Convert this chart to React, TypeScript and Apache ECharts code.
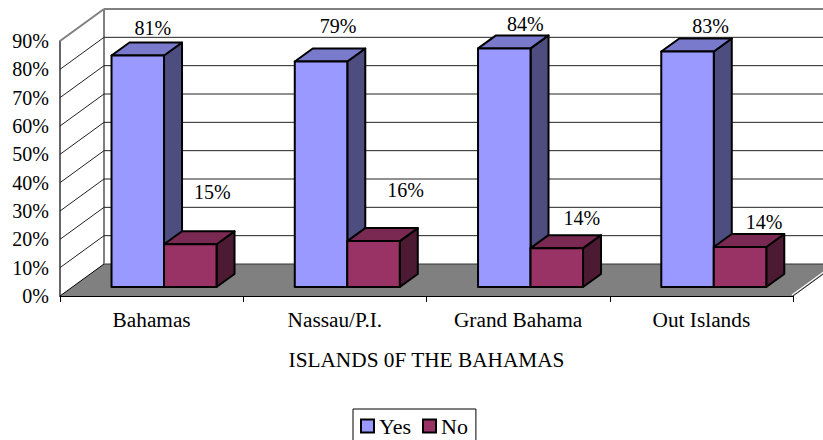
import React, { useEffect, useRef } from "react";
import * as echarts from "echarts";

const categories = ["Bahamas", "Nassau/P.I.", "Grand Bahama", "Out Islands"];
const yesValues = [81.7, 79.6, 84.2, 83.1];
const noValues = [15.1, 16.2, 13.7, 14.1];
const yesLabels = ["81%", "79%", "84%", "83%"];
const noLabels = ["15%", "16%", "14%", "14%"];
const tickValues = [0, 10, 20, 30, 40, 50, 60, 70, 80, 90];
const axisTitle = "ISLANDS 0F THE BAHAMAS";

// layout of the fake 3D box
const WALL_DX = 44;
const WALL_DY = -32;
const BAR_SHIFT_X = 12.4;
const BAR_SHIFT_Y = -9;
const BAR_DX = 18;
const BAR_DY = -13;
const BAR_W = 52.5;
const yesNudge = [[15, -28], [17, -35], [21, -24], [23, -26]];
const noNudge = [[22, -52], [32, -51], [25, -30], [24, -25]];

const FONT = "'Liberation Serif', 'Times New Roman', serif";
const FONT_SIZE = 20;
const CAT_FONT_SIZE = 21.3;
const LEGEND_FONT_SIZE = 22;

function wallItem(params: any, api: any) {
  const v = api.value(0);
  const cs = params.coordSys;
  const y = api.coord([0, v])[1];
  const left = cs.x;
  const right = cs.x + cs.width;
  const children: any[] = [];
  if (v === 0) {
    children.push({
      type: "polygon",
      shape: {
        points: [
          [left, y],
          [right, y],
          [right + WALL_DX, y + WALL_DY],
          [left + WALL_DX, y + WALL_DY],
        ],
      },
      style: { fill: "#808080" },
    });
    const topY = api.coord([0, 90])[1];
    children.push({
      type: "line",
      shape: { x1: left + WALL_DX, y1: y + WALL_DY, x2: right + WALL_DX, y2: y + WALL_DY },
      style: { stroke: "#333", lineWidth: 1 },
    });
    children.push({
      type: "line",
      shape: { x1: right - 1, y1: y - 1, x2: right + WALL_DX - 1, y2: y + WALL_DY - 1 },
      style: { stroke: "#fff", lineWidth: 1.2 },
    });
    children.push({
      type: "line",
      shape: { x1: right, y1: y, x2: right + WALL_DX, y2: y + WALL_DY },
      style: { stroke: "#222", lineWidth: 1 },
    });
    children.push({
      type: "line",
      shape: { x1: left + WALL_DX, y1: y + WALL_DY, x2: left + WALL_DX, y2: topY + WALL_DY },
      style: { stroke: "#808080", lineWidth: 2 },
    });
    children.push({
      type: "line",
      shape: { x1: left, y1: y, x2: left + WALL_DX, y2: y + WALL_DY },
      style: { stroke: "#000", lineWidth: 1 },
    });
  } else if (v === 90) {
    children.push({
      type: "line",
      shape: { x1: left, y1: y, x2: left + WALL_DX, y2: y + WALL_DY },
      style: { stroke: "#808080", lineWidth: 2 },
    });
    children.push({
      type: "line",
      shape: { x1: left + WALL_DX, y1: y + WALL_DY, x2: right + WALL_DX, y2: y + WALL_DY },
      style: { stroke: "#808080", lineWidth: 2 },
    });
  } else {
    children.push({
      type: "polyline",
      shape: {
        points: [
          [left, y],
          [left + WALL_DX, y + WALL_DY],
          [right + WALL_DX, y + WALL_DY],
        ],
      },
      style: { fill: "none", stroke: "#222", lineWidth: 1 },
    });
  }
  return { type: "group", children };
}

function barRenderer(
  offset: number,
  front: string,
  top: string,
  side: string,
  labels: string[],
  nudges: number[][]
) {
  return (_params: any, api: any) => {
    const idx = api.value(0);
    const val = api.value(1);
    const base = api.coord([idx, 0]);
    const tip = api.coord([idx, val]);
    const x0 = base[0] + BAR_SHIFT_X + offset * BAR_W;
    const x1 = x0 + BAR_W;
    const yb = base[1] + BAR_SHIFT_Y;
    const yt = tip[1] + BAR_SHIFT_Y;
    const stroke = { stroke: "#000", lineWidth: 2, lineJoin: "round" };
    const mid = (x0 + x1) / 2;
    return {
      type: "group",
      children: [
        {
          type: "polygon",
          shape: {
            points: [
              [x1, yt],
              [x1 + BAR_DX, yt + BAR_DY],
              [x1 + BAR_DX, yb + BAR_DY],
              [x1, yb],
            ],
          },
          style: { fill: side, ...stroke },
        },
        {
          type: "polygon",
          shape: {
            points: [
              [x0, yt],
              [x0 + BAR_DX, yt + BAR_DY],
              [x1 + BAR_DX, yt + BAR_DY],
              [x1, yt],
            ],
          },
          style: { fill: top, ...stroke },
        },
        {
          type: "rect",
          shape: { x: x0, y: yt, width: BAR_W, height: yb - yt },
          style: { fill: front, ...stroke },
        },
        {
          type: "text",
          style: {
            text: labels[idx],
            x: mid + nudges[idx][0],
            y: yt + nudges[idx][1],
            align: "center",
            verticalAlign: "middle",
            fill: "#000",
            font: `${FONT_SIZE}px ${FONT}`,
          },
        },
      ],
    };
  };
}

export default function App() {
  const ref = useRef<HTMLDivElement>(null);
  useEffect(() => {
    const chart = echarts.init(ref.current!, undefined, { renderer: "svg" });
    chart.setOption({
      animation: false,
      backgroundColor: "#fff",
      textStyle: { fontFamily: FONT },
      grid: { left: 60, right: 30, top: 41, bottom: 144, containLabel: false },
      xAxis: {
        type: "category",
        data: categories,
        name: axisTitle,
        nameLocation: "middle",
        nameGap: 53,
        nameTextStyle: { fontSize: CAT_FONT_SIZE, color: "#000", fontFamily: FONT },
        axisLine: { lineStyle: { color: "#000", width: 1 } },
        axisTick: { show: true, length: 6, lineStyle: { color: "#000" } },
        axisLabel: { fontSize: CAT_FONT_SIZE, color: "#000", fontFamily: FONT, margin: 13 },
        splitLine: { show: false },
      },
      yAxis: {
        type: "value",
        min: 0,
        max: 90,
        interval: 10,
        axisLine: { show: true, lineStyle: { color: "#333", width: 1.5 } },
        axisTick: { show: false },
        axisLabel: {
          fontSize: FONT_SIZE,
          color: "#000",
          fontFamily: FONT,
          margin: 11,
          formatter: "{value}%",
        },
        splitLine: { show: false },
      },
      legend: {
        data: [{ name: "Yes" }, { name: "No" }],
        left: 353,
        top: 409,
        padding: [6, 8, 40, 7],
        itemGap: 11,
        itemWidth: 13,
        itemHeight: 13,
        icon: "rect",
        borderColor: "#000",
        borderWidth: 1,
        textStyle: { fontSize: LEGEND_FONT_SIZE, color: "#000", fontFamily: FONT, padding: [0, 0, 0, 0] },
      },
      series: [
        {
          name: "walls",
          type: "custom",
          clip: false,
          silent: true,
          data: tickValues,
          encode: { y: 0 },
          renderItem: wallItem,
        },
        {
          name: "Yes",
          type: "custom",
          clip: false,
          itemStyle: { color: "#9999FF", borderColor: "#000", borderWidth: 2 },
          data: yesValues.map((v, i) => [i, v]),
          encode: { x: 0, y: 1 },
          renderItem: barRenderer(-1, "#9999FF", "#7A7ACC", "#4D4D80", yesLabels, yesNudge),
        },
        {
          name: "No",
          type: "custom",
          clip: false,
          itemStyle: { color: "#993366", borderColor: "#000", borderWidth: 2 },
          data: noValues.map((v, i) => [i, v]),
          encode: { x: 0, y: 1 },
          renderItem: barRenderer(0, "#993366", "#7A2952", "#4D1A33", noLabels, noNudge),
        },
      ],
    });
    return () => chart.dispose();
  }, []);
  return (
    <div
      ref={ref}
      style={{ position: "fixed", left: 0, top: 0, width: 823, height: 440 }}
    />
  );
}
